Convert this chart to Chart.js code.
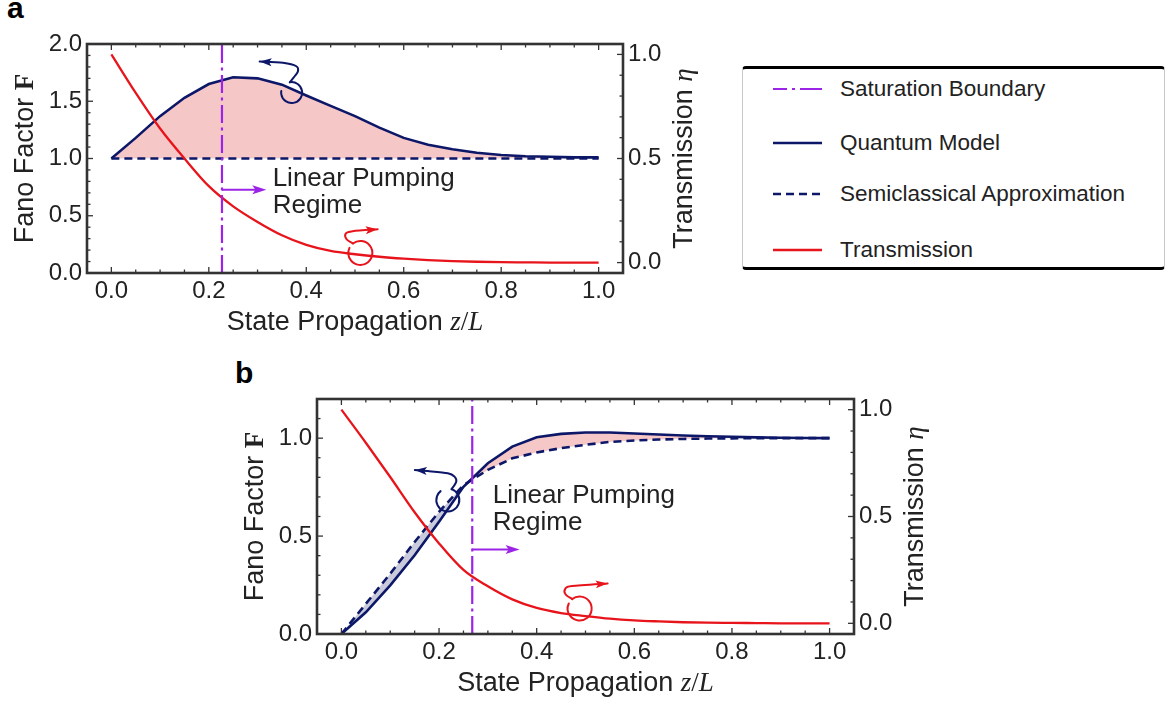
<!DOCTYPE html>
<html>
<head>
<meta charset="utf-8">
<script src="https://cdn.jsdelivr.net/npm/chart.js@4.4.1/dist/chart.umd.min.js"></script>
<style>
  html, body { margin: 0; padding: 0; background: #ffffff; }
  body { width: 1176px; height: 706px; position: relative; overflow: hidden;
         font-family: "Liberation Sans", Arial, sans-serif; }
  canvas { position: absolute; }
  #chartA { left: 0; top: 0; }
  #chartB { left: 220px; top: 350px; }
  .panel { position: absolute; font-weight: bold; font-size: 30px; line-height: 30px; color: #000; }
  #legendBox { position: absolute; left: 742px; top: 66px; width: 421px; height: 198px;
               border-top: 3px solid #000; border-bottom: 3px solid #000;
               border-left: 1px solid #c8c8c8; border-right: 1px solid #c8c8c8; border-radius: 4px; }
  .lg { position: absolute; left: 773px; height: 30px; width: 380px; }
  .lg svg { position: absolute; left: 0; top: 12px; }
  .lg span { position: absolute; left: 67px; top: 0; line-height: 30px; font-size: 22.5px; color: #222; white-space: nowrap; }
</style>
</head>
<body>
<div class="panel" style="left:7px; top:-7px;">a</div>
<div class="panel" style="left:235px; top:358px;">b</div>

<canvas id="chartA" width="720" height="345" style="width:720px;height:345px;"></canvas>
<canvas id="chartB" width="740" height="356" style="width:740px;height:356px;"></canvas>

<div id="legendBox"></div>
<div class="lg" style="top:74px;">
  <svg width="50" height="6"><path d="M0 3 H14 M19 3 H22 M27 3 H49" stroke="#9b24e6" stroke-width="2.2" fill="none"/></svg>
  <span>Saturation Boundary</span>
</div>
<div class="lg" style="top:128px;">
  <svg width="50" height="6"><path d="M0 3 H49" stroke="#0c1768" stroke-width="2.6" fill="none"/></svg>
  <span>Quantum Model</span>
</div>
<div class="lg" style="top:179px;">
  <svg width="50" height="6"><path d="M0 3 H8 M13 3 H21 M26 3 H34 M39 3 H47" stroke="#0c1768" stroke-width="2.6" fill="none"/></svg>
  <span>Semiclassical Approximation</span>
</div>
<div class="lg" style="top:235px;">
  <svg width="50" height="6"><path d="M0 3 H49" stroke="#e8141b" stroke-width="2.4" fill="none"/></svg>
  <span>Transmission</span>
</div>

<script>
// ---- axis tick labels ----
const zTicks = [0.0, 0.2, 0.4, 0.6, 0.8, 1.0];
const etaTicks = [0.0, 0.5, 1.0];
const fanoTicksA = [0.0, 0.5, 1.0, 1.5, 2.0];
const fanoTicksB = [0.0, 0.5, 1.0];

// ---- propagation samples z/L ----
const zPos = [0.00, 0.05, 0.10, 0.15, 0.20, 0.25, 0.30, 0.35, 0.40, 0.45, 0.50,
              0.55, 0.60, 0.65, 0.70, 0.75, 0.80, 0.85, 0.90, 0.95, 1.00];

// ---- panel a ----
const quantumA = [1.00, 1.18, 1.37, 1.53, 1.65, 1.71, 1.70, 1.645, 1.55, 1.46, 1.37,
                  1.27, 1.18, 1.12, 1.08, 1.05, 1.03, 1.02, 1.015, 1.01, 1.01];
const semiclassicalA = [1.00, 1.00, 1.00, 1.00, 1.00, 1.00, 1.00, 1.00, 1.00, 1.00, 1.00,
                        1.00, 1.00, 1.00, 1.00, 1.00, 1.00, 1.00, 1.00, 1.00, 1.00];
const transmissionA = [1.00, 0.815, 0.644, 0.50, 0.367, 0.27, 0.195, 0.131, 0.085, 0.056, 0.040,
                       0.028, 0.019, 0.012, 0.007, 0.004, 0.002, 0.001, 0.0, 0.0, 0.0];
const saturationA = 0.227;

// ---- panel b ----
const quantumB = [0.00, 0.111, 0.248, 0.402, 0.573, 0.752, 0.872, 0.957, 1.005, 1.022, 1.029,
                  1.029, 1.024, 1.019, 1.014, 1.010, 1.007, 1.004, 1.002, 1.001, 1.000];
const semiclassicalB = [0.00, 0.154, 0.308, 0.470, 0.624, 0.760, 0.838, 0.897, 0.927, 0.949, 0.966,
                        0.981, 0.988, 0.993, 0.996, 0.998, 0.999, 1.000, 1.000, 1.000, 1.000];
const transmissionB = [1.00, 0.845, 0.685, 0.52, 0.374, 0.25, 0.173, 0.112, 0.072, 0.048, 0.034,
                       0.022, 0.014, 0.009, 0.005, 0.003, 0.002, 0.001, 0.0, 0.0, 0.0];
const saturationB = 0.268;

// ---- styling ----
const INK = '#222222';
const FRAME = '#333333';
const NAVY = '#0c1768';
const RED = '#e8141b';
const VIOLET = '#9b24e6';
const PINK = '#f6c7c7';
const LAVENDER = '#c9cbdc';
const SANS = '"Liberation Sans", Arial, sans-serif';
const SERIF = '"Liberation Serif", "DejaVu Serif", serif';

const pts = (ys) => zPos.map((z, i) => ({ x: z, y: ys[i] }));

// smooth curve through a list of pixel points (Catmull-Rom)
function smoothPath(ctx, p) {
  ctx.moveTo(p[0][0], p[0][1]);
  for (let i = 0; i < p.length - 1; i++) {
    const p0 = p[i - 1] || p[i], p1 = p[i], p2 = p[i + 1], p3 = p[i + 2] || p2;
    ctx.bezierCurveTo(p1[0] + (p2[0] - p0[0]) / 6, p1[1] + (p2[1] - p0[1]) / 6,
                      p2[0] - (p3[0] - p1[0]) / 6, p2[1] - (p3[1] - p1[1]) / 6, p2[0], p2[1]);
  }
}

// narrow filled arrowhead with a notched back
function arrowHead(ctx, x, y, ang, len, half, color) {
  const c = Math.cos(ang), s = Math.sin(ang);
  ctx.fillStyle = color;
  ctx.beginPath();
  ctx.moveTo(x, y);
  ctx.lineTo(x - len * c + half * s, y - len * s - half * c);
  ctx.lineTo(x - 0.78 * len * c, y - 0.78 * len * s);
  ctx.lineTo(x - len * c - half * s, y - len * s + half * c);
  ctx.closePath();
  ctx.fill();
}

function drawSegments(ctx, segs, x, y, rot) {
  ctx.save();
  ctx.translate(x, y);
  ctx.rotate(rot);
  ctx.textBaseline = 'alphabetic';
  ctx.textAlign = 'left';
  ctx.fillStyle = INK;
  let total = 0;
  segs.forEach(s => { ctx.font = s.f; s.w = ctx.measureText(s.t).width; total += s.w; });
  let cx = -total / 2;
  segs.forEach(s => { ctx.font = s.f; ctx.fillText(s.t, cx, 0); cx += s.w; });
  ctx.restore();
}

// frame, inward tick marks, axis titles and annotations
const panelDeco = {
  id: 'panelDeco',
  afterDraw(chart, args, o) {
    const { ctx, chartArea: a, scales } = chart;
    const X = scales.x, Y = scales.y, Y1 = scales.y1;
    ctx.save();

    // inward ticks
    ctx.strokeStyle = FRAME;
    ctx.lineWidth = 1.3;
    const seg = (x1, y1, x2, y2) => { ctx.beginPath(); ctx.moveTo(x1, y1); ctx.lineTo(x2, y2); ctx.stroke(); };
    for (let i = 0; i <= 20; i++) {
      const px = X.getPixelForValue(i * 0.05);
      const L = i % 4 === 0 ? 6 : 3.5;
      seg(px, a.bottom, px, a.bottom - L);
      seg(px, a.top, px, a.top + L);
    }
    const nLeft = Math.round(Y.max * 10);
    for (let i = 0; i <= nLeft; i++) {
      const py = Y.getPixelForValue(i * 0.1);
      const L = i % 5 === 0 ? 6 : 3.5;
      seg(a.left, py, a.left + L, py);
    }
    for (let i = 0; i <= 10; i++) {
      const py = Y1.getPixelForValue(i * 0.1);
      const L = i % 5 === 0 ? 6 : 3.5;
      seg(a.right, py, a.right - L, py);
    }

    // frame
    ctx.lineWidth = 2.6;
    ctx.strokeRect(a.left, a.top, a.width, a.height);

    // axis titles
    const T = 27;
    drawSegments(ctx, [
      { t: 'State Propagation ', f: `${T}px ${SANS}` },
      { t: 'z', f: `italic ${T}px ${SERIF}` },
      { t: '/', f: `${T}px ${SERIF}` },
      { t: 'L', f: `italic ${T}px ${SERIF}` }
    ], (a.left + a.right) / 2, a.bottom + 57, 0);
    drawSegments(ctx, [
      { t: 'Fano Factor ', f: `${T}px ${SANS}` },
      { t: 'F', f: `bold ${T}px ${SERIF}` }
    ], a.left - 54, (a.top + a.bottom) / 2, -Math.PI / 2);
    drawSegments(ctx, [
      { t: 'Transmission ', f: `${T}px ${SANS}` },
      { t: 'η', f: `italic ${T}px ${SERIF}` }
    ], a.right + 69, (a.top + a.bottom) / 2, -Math.PI / 2);

    // regime label
    ctx.fillStyle = INK;
    ctx.font = `26px ${SANS}`;
    ctx.textAlign = 'left';
    ctx.textBaseline = 'alphabetic';
    const tx = X.getPixelForValue(o.label.z), ty = Y.getPixelForValue(o.label.f);
    ctx.fillText('Linear Pumping', tx, ty);
    ctx.fillText('Regime', tx, ty + 27.5);

    // violet arrowhead at the end of the regime arrow
    arrowHead(ctx, X.getPixelForValue(o.arrowTip.z), Y.getPixelForValue(o.arrowTip.f), 0, 14, 4.5, VIOLET);

    // curly arrows pointing to the matching axis: a loop around the curve and a tail
    o.curls.forEach(c => {
      const cx = X.getPixelForValue(c.z), cy = Y.getPixelForValue(c.f);
      const a0 = c.a0 * Math.PI / 180, a1 = c.a1 * Math.PI / 180;
      ctx.strokeStyle = c.color;
      ctx.lineWidth = 2;
      ctx.lineCap = 'round';
      ctx.beginPath();
      ctx.arc(cx, cy, c.r, a0, a1, false);
      ctx.stroke();
      const p = [[c.r * Math.cos(a0), c.r * Math.sin(a0)]].concat(c.tail).map(q => [cx + q[0], cy + q[1]]);
      ctx.beginPath();
      smoothPath(ctx, p);
      ctx.stroke();
      const tip = p[p.length - 1], prev = p[p.length - 2];
      arrowHead(ctx, tip[0], tip[1], Math.atan2(tip[1] - prev[1], tip[0] - prev[0]), 12, 4, c.color);
    });
    ctx.restore();
  }
};

function makeChart(id, cfg) {
  const labelFmt = (v) => Number(v).toFixed(1);
  const tickFont = { family: SANS, size: 24 };
  return new Chart(document.getElementById(id), {
    type: 'line',
    data: {
      datasets: [
        { // saturation boundary
          data: [{ x: cfg.sat, y: 0 }, { x: cfg.sat, y: cfg.fanoMax }],
          yAxisID: 'y', borderColor: VIOLET, borderWidth: 2.2, borderDash: [18, 4.5, 3, 4.5],
          pointRadius: 0, fill: false
        },
        { // linear pumping direction
          data: [{ x: cfg.sat, y: cfg.arrowF }, { x: cfg.arrowEnd - 0.02, y: cfg.arrowF }],
          yAxisID: 'y', borderColor: VIOLET, borderWidth: 2, pointRadius: 0, fill: false
        },
        { // transmission
          label: 'Transmission',
          data: pts(cfg.trans), yAxisID: 'y1', borderColor: RED, borderWidth: 2.3,
          pointRadius: 0, cubicInterpolationMode: 'monotone', fill: false
        },
        { // quantum model
          label: 'Quantum Model',
          data: pts(cfg.quantum), yAxisID: 'y', borderColor: NAVY, borderWidth: 2.6,
          pointRadius: 0, tension: 0,
          fill: { target: 4, above: PINK, below: LAVENDER }
        },
        { // semiclassical approximation
          label: 'Semiclassical Approximation',
          data: pts(cfg.semi), yAxisID: 'y', borderColor: NAVY, borderWidth: 2.6,
          borderDash: [8, 5], pointRadius: 0, tension: 0, fill: false
        }
      ]
    },
    options: {
      responsive: false,
      animation: false,
      devicePixelRatio: 1,
      layout: { padding: { top: cfg.top, left: 0, right: 0, bottom: 0 } },
      plugins: {
        legend: { display: false },
        tooltip: { enabled: false },
        filler: { drawTime: 'beforeDatasetsDraw' },
        panelDeco: {
          label: cfg.label,
          arrowTip: { z: cfg.arrowEnd, f: cfg.arrowF },
          curls: cfg.curls
        }
      },
      scales: {
        x: {
          type: 'linear', min: -0.05, max: 1.05,
          afterBuildTicks: (s) => { s.ticks = zTicks.map(v => ({ value: v })); },
          afterFit: (s) => { s.height = cfg.bottomH; },
          ticks: { callback: labelFmt, font: tickFont, color: INK, padding: 4, maxRotation: 0, autoSkip: false },
          grid: { display: false, drawTicks: false },
          border: { display: false }
        },
        y: {
          type: 'linear', position: 'left', min: 0, max: cfg.fanoMax,
          afterBuildTicks: (s) => { s.ticks = cfg.fanoTicks.map(v => ({ value: v })); },
          afterFit: (s) => { s.width = cfg.leftW; },
          ticks: { callback: labelFmt, font: tickFont, color: INK, padding: 5, autoSkip: false },
          grid: { display: false, drawTicks: false },
          border: { display: false }
        },
        y1: {
          type: 'linear', position: 'right', min: -0.05, max: 1.05,
          afterBuildTicks: (s) => { s.ticks = etaTicks.map(v => ({ value: v })); },
          afterFit: (s) => { s.width = cfg.rightW; },
          ticks: { callback: labelFmt, font: tickFont, color: INK, padding: 5, autoSkip: false },
          grid: { display: false, drawTicks: false },
          border: { display: false }
        }
      }
    },
    plugins: [panelDeco]
  });
}

makeChart('chartA', {
  quantum: quantumA, semi: semiclassicalA, trans: transmissionA, sat: saturationA,
  fanoMax: 2.0, fanoTicks: fanoTicksA,
  top: 44, leftW: 87, rightW: 97, bottomH: 72,
  arrowF: 0.727, arrowEnd: 0.318,
  label: { z: 0.331, f: 0.762 },
  curls: [
    { z: 0.37, f: 1.576, color: NAVY, r: 10.5, a0: -100, a1: 188,
      tail: [[3, -16.3], [6.3, -21.3], [4.7, -26.3], [-8.7, -29.7], [-32, -31]] },
    { z: 0.511, f: 0.175, color: RED, r: 12, a0: -128, a1: 205,
      tail: [[-14, -14], [-14.5, -19.5], [-7.7, -21.8], [17.3, -23.7]] }
  ]
});

makeChart('chartB', {
  quantum: quantumB, semi: semiclassicalB, trans: transmissionB, sat: saturationB,
  fanoMax: 1.2, fanoTicks: fanoTicksB,
  top: 49, leftW: 97, rightW: 106, bottomH: 72,
  arrowF: 0.432, arrowEnd: 0.365,
  label: { z: 0.31, f: 0.67 },
  curls: [
    { z: 0.218, f: 0.684, color: NAVY, r: 11.5, a0: -71, a1: 231,
      tail: [[8.4, -18.4], [6.7, -23.4], [0, -26.7], [-20, -29], [-33, -30]] },
    { z: 0.488, f: 0.13, color: RED, r: 12, a0: -128, a1: 205,
      tail: [[-14, -14], [-14.5, -19.5], [-7.7, -22.5], [28, -25]] }
  ]
});
</script>
</body>
</html>
